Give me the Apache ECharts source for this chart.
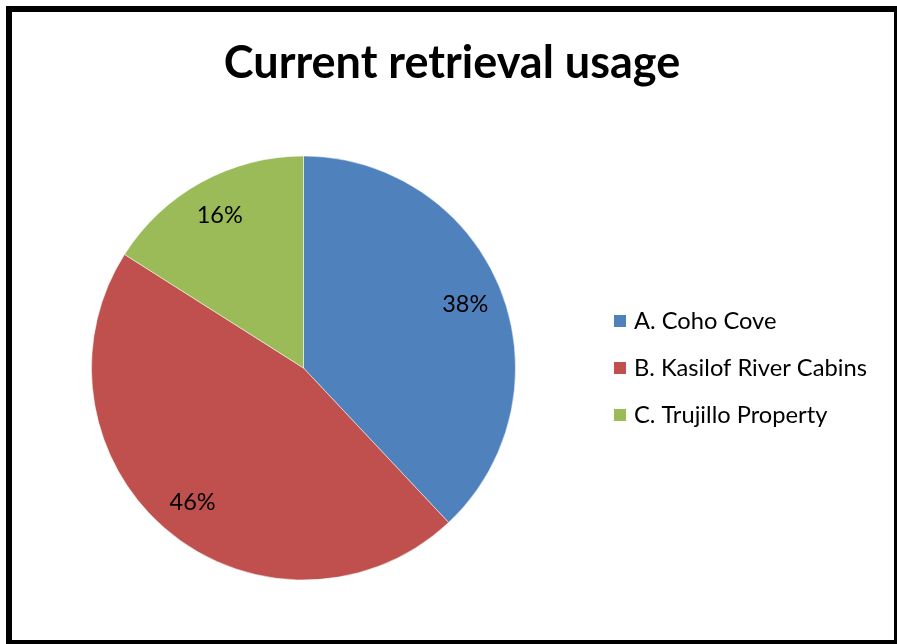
<!DOCTYPE html>
<html><head><meta charset="utf-8">
<script src="https://cdn.jsdelivr.net/npm/echarts@6/dist/echarts.min.js"></script>
<style>html,body{margin:0;padding:0;background:#fff}#c{width:897px;height:644px}</style>
</head><body><div id="c"></div>
<script>
const categories = ['A. Coho Cove', 'B. Kasilof River Cabins', 'C. Trujillo Property'];
const values = [38, 46, 16];
const colors = ['#4F81BD', '#C0504D', '#9BBB59'];
const FONT = 'Lato';

const data = categories.map((n, i) => ({ name: n, value: values[i], itemStyle: { color: colors[i] } }));
const chart = echarts.init(document.getElementById('c'), null, { renderer: 'canvas' });
chart.setOption({
  backgroundColor: '#fff',
  animation: false,
  title: {
    text: 'Current retrieval usage',
    left: 447, top: 36, textAlign: 'center',
    textStyle: { fontFamily: FONT, fontWeight: 'bold', fontSize: 45, color: '#000' }
  },
  legend: {
    orient: 'vertical', left: 612, top: 309, padding: 0,
    itemWidth: 14, itemHeight: 14, itemGap: 23, icon: 'rect',
    data: categories,
    textStyle: { fontFamily: FONT, fontSize: 23.7, lineHeight: 24, color: '#000', padding: [0, 0, 0, 2] }
  },
  graphic: [{
    type: 'rect', z: 100, silent: true,
    shape: { x: 9, y: 9, width: 888, height: 634 },
    style: { fill: 'none', stroke: '#000', lineWidth: 6 }
  }],
  series: [{
    type: 'pie', center: [303.5, 368], radius: 212, startAngle: 90, clockwise: true,
    data: data, label: { show: false }, labelLine: { show: false },
    itemStyle: { borderColor: '#fff', borderWidth: 0.5 }, emphasis: { disabled: true }
  }, {
    type: 'pie', center: [303.5, 368], radius: [130, 212], startAngle: 90, clockwise: true, silent: true,
    data: categories.map((n, i) => ({ name: n, value: values[i] })),
    itemStyle: { color: 'rgba(0,0,0,0)' },
    label: { show: true, position: 'inside', formatter: '{c}%', fontFamily: FONT, fontSize: 23.5, color: '#000' },
    labelLine: { show: false }, emphasis: { disabled: true }, legendHoverLink: false
  }]
});
</script></body></html>
